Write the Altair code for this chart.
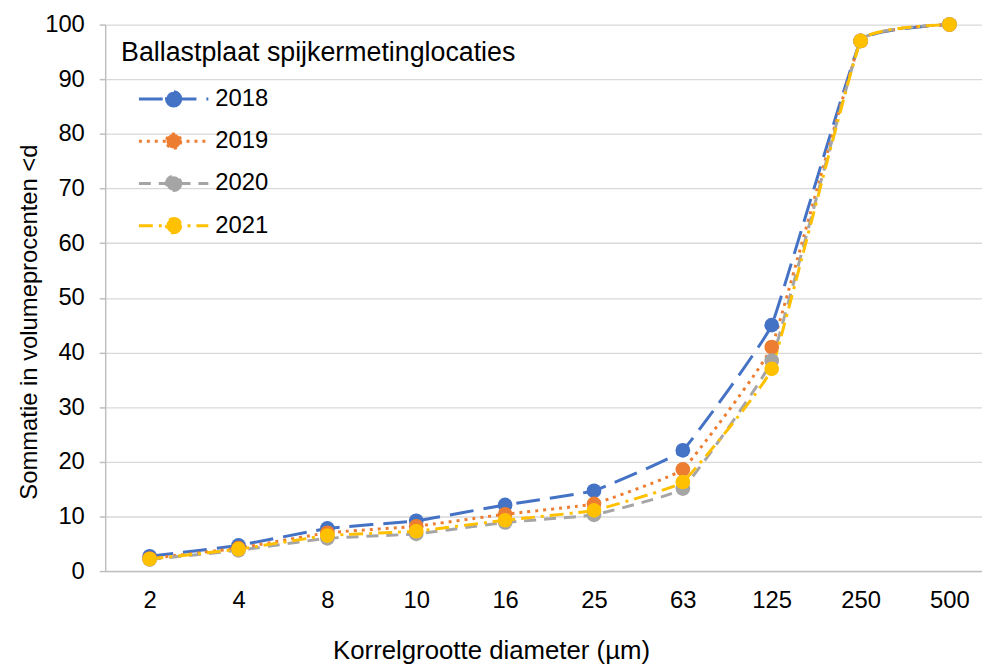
import altair as alt
import pandas as pd

sizes = ["2", "4", "8", "10", "16", "25", "63", "125", "250", "500"]
years = ["2018", "2019", "2020", "2021"]
v2018 = [2.7, 4.7, 7.8, 9.2, 12.1, 14.7, 22.1, 45.0, 97.0, 100.0]
v2019 = [2.3, 4.2, 7.0, 8.2, 10.4, 12.3, 18.6, 41.0, 97.0, 100.0]
v2020 = [2.1, 3.8, 6.0, 6.8, 8.9, 10.3, 15.1, 38.5, 97.0, 100.0]
v2021 = [2.2, 4.0, 6.5, 7.3, 9.3, 11.1, 16.3, 37.0, 97.0, 100.0]
y_ticks = [0, 10, 20, 30, 40, 50, 60, 70, 80, 90, 100]

colors = ["#4472C4", "#ED7D31", "#A5A5A5", "#FFC000"]
dashes = [[24, 10], [3, 5], [12, 8], [14, 6, 3, 6]]

rows = []
for yr, vals in zip(years, [v2018, v2019, v2020, v2021]):
    for s, v in zip(sizes, vals):
        rows.append({"d": s, "jaar": yr, "pct": v})
df = pd.DataFrame(rows)

FONT = "Liberation Sans"
LEG_TITLE = "Ballastplaat spijkermetinglocaties"

xenc = alt.X(
    "d:O", sort=sizes,
    scale=alt.Scale(range=[0, 896], padding=0.5),
    axis=alt.Axis(
        title="Korrelgrootte diameter (µm)", labelAngle=0, ticks=False, tickSize=0,
        labelPadding=18, domainColor="#BFBFBF", domainWidth=1.5, grid=False,
        labelFontSize=24, labelColor="#000000", titleFontSize=26, titleFontWeight="normal",
        titleColor="#000000", titleX=389, titleY=88, titleBaseline="alphabetic",
        titleAlign="center",
    ),
)
yenc = alt.Y(
    "pct:Q",
    scale=alt.Scale(domain=[0, 100], nice=False),
    axis=alt.Axis(
        title="Sommatie in volumeprocenten <d", values=y_ticks, grid=True,
        gridColor="#D9D9D9", gridWidth=1.3, domainColor="#BFBFBF", domainWidth=1.5,
        tickColor="#BFBFBF", tickSize=6, tickWidth=1.5, labelPadding=15,
        labelFontSize=24, labelColor="#000000", titleFontSize=24, titleFontWeight="normal",
        titleColor="#000000", titleX=-69, titleY=299.5, titleBaseline="alphabetic",
        titleAlign="center", titleAngle=270,
    ),
)

cscale = alt.Scale(domain=years, range=colors)
dscale = alt.Scale(domain=years, range=dashes)

legend = alt.Legend(
    orient="none", legendX=16, legendY=16, padding=0,
    title=LEG_TITLE, titleFontSize=27, titleFontWeight="normal", titleColor="#000000",
    titleLimit=800, titlePadding=20,
    labelFontSize=24, labelColor="#000000", labelLimit=300,
    symbolType="M-3.5,0L3.5,0M0.72,0A0.72,0.72,0,1,1,-0.72,0A0.72,0.72,0,1,1,0.72,0Z",
    symbolSize=400, symbolStrokeWidth=3, symbolOffset=41, labelOffset=30,
    rowPadding=14.6,
)

lines = alt.Chart(df).mark_line(
    strokeWidth=3, interpolate="cardinal", tension=0.75
).encode(
    x=xenc, y=yenc,
    stroke=alt.Stroke("jaar:N", scale=cscale, legend=legend, title=LEG_TITLE),
    strokeDash=alt.StrokeDash("jaar:N", scale=dscale, legend=legend, title=LEG_TITLE),
)

points = alt.Chart(df).mark_point(filled=True, size=220, opacity=1, shape="circle").encode(
    x=xenc, y=yenc,
    fill=alt.Fill("jaar:N", scale=cscale, legend=legend, title=LEG_TITLE),
    order=alt.Order("jaar:N"),
)

leg = alt.Chart(df).transform_filter("false").mark_point(
    filled=True, opacity=1, strokeWidth=3
).encode(
    x=xenc, y=yenc,
    fill=alt.Fill("jaar:N", scale=cscale, legend=legend, title=LEG_TITLE),
    stroke=alt.Stroke("jaar:N", scale=cscale, legend=legend, title=LEG_TITLE),
    strokeDash=alt.StrokeDash("jaar:N", scale=dscale, legend=legend, title=LEG_TITLE),
)

chart = alt.layer(lines, points, leg).properties(
    width=884, height=551,
    autosize=alt.AutoSizeParams(type="none"),
    padding={"left": 98, "top": 14, "right": 0, "bottom": 92},
).configure(font=FONT).configure_view(stroke=None)

chart.save("out.html", embed_options={"renderer": "svg", "actions": False})
